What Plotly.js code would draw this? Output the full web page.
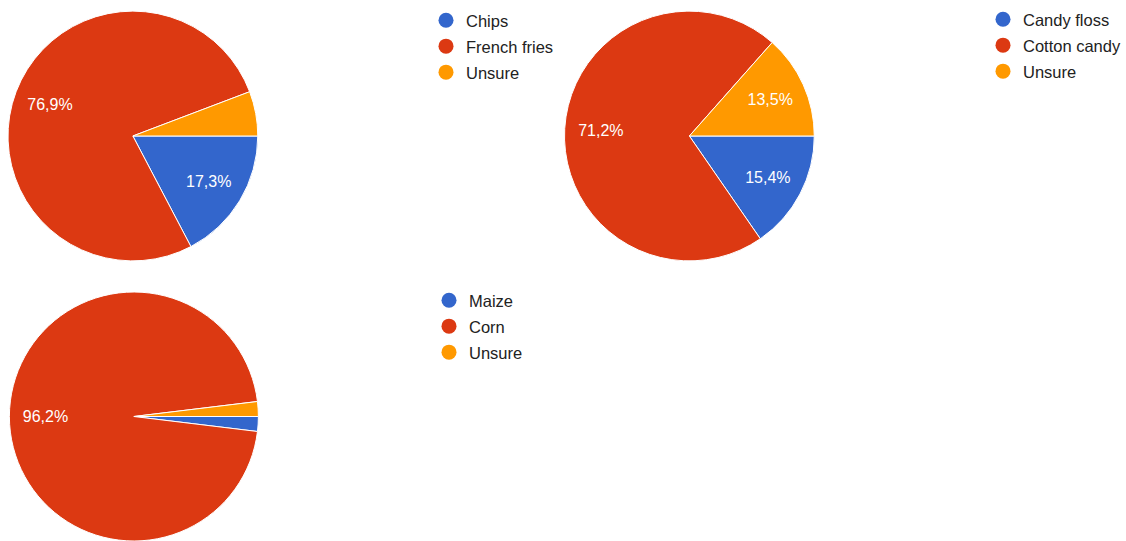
<!DOCTYPE html>
<html>
<head>
<meta charset="utf-8">
<script src="https://cdn.plot.ly/plotly-3.0.1.min.js"></script>
<style>html,body{margin:0;padding:0;background:#fff;}#chart{width:1126px;height:541px;}</style>
</head>
<body>
<div id="chart"></div>
<script>
// Chart 1
const labels1 = ["Chips", "French fries", "Unsure"];
const values1 = [9, 40, 3];
// Chart 2
const labels2 = ["Candy floss", "Cotton candy", "Unsure"];
const values2 = [8, 37, 7];
// Chart 3
const labels3 = ["Maize", "Corn", "Unsure"];
const values3 = [1, 50, 1];

const colors = ["#3366cc", "#dc3912", "#ff9900"];
const W = 1126, H = 541;

function px(x) { return x / W; }
function py(y) { return 1 - y / H; }

function textPos(vals) {
  const tot = vals.reduce((a, b) => a + b, 0);
  return vals.map(v => (v / tot >= 0.1 ? "inside" : "none"));
}

function pie(labels, values, dom) {
  return {
    type: "pie",
    labels: labels,
    values: values,
    sort: false,
    direction: "clockwise",
    rotation: 90,
    marker: { colors: colors, line: { color: "#ffffff", width: 1 } },
    textinfo: "none",
    textposition: "none",
    showlegend: false,
    hoverinfo: "label+percent",
    domain: dom
  };
}

// transparent ring carrying the percentage labels at Google-like radius
function pieLabels(labels, values, dom) {
  return {
    type: "pie",
    labels: labels,
    values: values,
    sort: false,
    direction: "clockwise",
    rotation: 90,
    hole: 0.42,
    marker: { colors: ["rgba(0,0,0,0)", "rgba(0,0,0,0)", "rgba(0,0,0,0)"], line: { width: 0 } },
    textinfo: "percent",
    texttemplate: "%{percent:.1%}",
    textposition: textPos(values),
    insidetextorientation: "horizontal",
    insidetextfont: { color: "#ffffff", size: 16, family: "Liberation Sans, Arial, sans-serif" },
    showlegend: false,
    hoverinfo: "skip",
    domain: dom
  };
}

function legendTraces(labels, legendId, prefix) {
  return labels.map((l, i) => ({
    type: "scatter",
    mode: "markers",
    x: [null],
    y: [null],
    name: l,
    legend: legendId,
    legendgroup: prefix + i,
    marker: { color: colors[i], size: 15, symbol: "circle" },
    hoverinfo: "skip"
  }));
}

const dom1 = { x: [px(8), px(258)], y: [py(261), py(11)] };
const dom2 = { x: [px(565), px(815)], y: [py(261), py(11)] };
const dom3 = { x: [px(9), px(259)], y: [0, py(292)] };

const data = [
  pie(labels1, values1, dom1),
  pie(labels2, values2, dom2),
  pie(labels3, values3, dom3),
  pieLabels(labels1, values1, dom1),
  pieLabels(labels2, values2, dom2),
  pieLabels(labels3, values3, dom3)
].concat(legendTraces(labels1, "legend", "a"))
 .concat(legendTraces(labels2, "legend2", "b"))
 .concat(legendTraces(labels3, "legend3", "c"));

const legFont = { family: "Liberation Sans, Arial, sans-serif", size: 16.5, color: "#222222" };
function leg(x, y) {
  return {
    x: px(x), y: py(y), xanchor: "left", yanchor: "top",
    font: legFont, bgcolor: "rgba(0,0,0,0)", borderwidth: 0,
    traceorder: "grouped", tracegroupgap: 1.5, itemclick: false, itemdoubleclick: false
  };
}

const layout = {
  width: W, height: H,
  margin: { l: 0, r: 0, t: 0, b: 0 },
  paper_bgcolor: "#ffffff",
  plot_bgcolor: "#ffffff",
  separators: ",.",
  font: { family: "Liberation Sans, Arial, sans-serif" },
  xaxis: { visible: false, domain: [0.99, 1] },
  yaxis: { visible: false, domain: [0.99, 1] },
  legend: leg(426, 3),
  legend2: leg(984, 2),
  legend3: leg(429, 283)
};

Plotly.newPlot("chart", data, layout, { displayModeBar: false, staticPlot: true });
</script>
</body>
</html>
